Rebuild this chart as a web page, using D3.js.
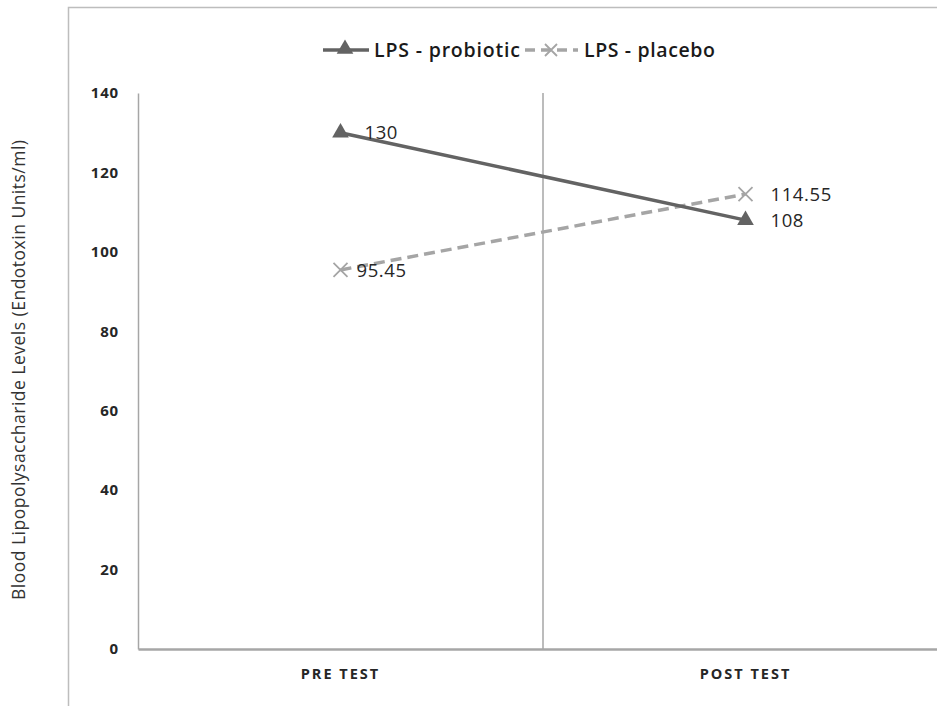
<!DOCTYPE html>
<html><head><meta charset="utf-8">
<script src="https://cdn.jsdelivr.net/npm/d3@7"></script>
<style>body{margin:0;background:#fff;} svg{display:block;}</style>
</head><body>
<svg id="c" width="937" height="706"></svg>
<script>
const categories = ["PRE TEST", "POST TEST"];
const probiotic = [130, 108];
const placebo = [95.45, 114.55];
const yTicks = [0, 20, 40, 60, 80, 100, 120, 140];
const seriesNames = ["LPS - probiotic", "LPS - placebo"];
const yTitle = "Blood Lipopolysaccharide Levels (Endotoxin Units/ml)";

const svg = d3.select("#c");
const font = "'Open Sans', 'Liberation Sans', sans-serif";

// outer border
svg.append("rect").attr("x", 68.5).attr("y", 7.5).attr("width", 900).attr("height", 720)
  .attr("fill", "none").attr("stroke", "#bdbdbd").attr("stroke-width", 1.5);

const x = d3.scaleBand().domain(categories).range([138, 948]);
const y = d3.scaleLinear().domain([0, 140]).range([649, 93]);

// divider between categories
svg.append("line").attr("x1", x("POST TEST")).attr("x2", x("POST TEST"))
  .attr("y1", y(140)).attr("y2", y(0)).attr("stroke", "#a6a6a6").attr("stroke-width", 1.5);

// y axis
const yAxis = svg.append("g").attr("transform", "translate(138,0)")
  .call(d3.axisLeft(y).tickValues(yTicks).tickSize(0).tickPadding(19));
yAxis.select(".domain").attr("stroke", "#a6a6a6").attr("stroke-width", 1.5);
yAxis.selectAll("text").attr("font-family", font).attr("font-size", 15).attr("font-weight", "bold")
  .attr("letter-spacing", 0.8).attr("fill", "#262626");

// x axis
const xAxis = svg.append("g").attr("transform", `translate(0,${y(0)})`)
  .call(d3.axisBottom(x).tickSize(0).tickPadding(20));
xAxis.select(".domain").attr("stroke", "#a6a6a6").attr("stroke-width", 2.5);
xAxis.selectAll("text").attr("font-family", font).attr("font-size", 14.5).attr("font-weight", "bold")
  .attr("fill", "#262626").attr("letter-spacing", 2);

// y title
svg.append("text").attr("transform", `translate(25,${370}) rotate(-90)`)
  .attr("text-anchor", "middle").attr("font-family", font).attr("font-size", 17.5).attr("fill", "#333")
  .attr("textLength", 460).text(yTitle);

const cx = c => x(c) + x.bandwidth() / 2;
const line = d3.line().x((d, i) => cx(categories[i])).y(d => y(d));

const c1 = "#636363", c2 = "#a5a5a5";

svg.append("path").datum(placebo).attr("d", line).attr("fill", "none")
  .attr("stroke", c2).attr("stroke-width", 3.5).attr("stroke-dasharray", "11,6");
svg.append("path").datum(probiotic).attr("d", line).attr("fill", "none")
  .attr("stroke", c1).attr("stroke-width", 3.5);

const tri = d3.symbol().type(d3.symbolTriangle).size(120);
function xMark(g, px, py, s, col) {
  g.append("path").attr("d", `M${px-s},${py-s}L${px+s},${py+s}M${px-s},${py+s}L${px+s},${py-s}`)
    .attr("stroke", col).attr("stroke-width", 1.8).attr("fill", "none");
}

probiotic.forEach((v, i) => {
  svg.append("path").attr("d", tri).attr("transform", `translate(${cx(categories[i])},${y(v)})`).attr("fill", c1);
});
placebo.forEach((v, i) => xMark(svg, cx(categories[i]), y(v), 7, c2));

// data labels
function label(txt, px, py) {
  svg.append("text").attr("x", px).attr("y", py).attr("dy", "0.35em")
    .attr("font-family", font).attr("font-size", 18.5).attr("letter-spacing", 0.6)
    .attr("fill", "#262626").text(txt);
}
label(probiotic[0], cx(categories[0]) + 24, y(probiotic[0]));
label(placebo[0], cx(categories[0]) + 16, y(placebo[0]) + 1);
label(placebo[1], cx(categories[1]) + 25, y(placebo[1]));
label(probiotic[1], cx(categories[1]) + 25, y(probiotic[1]));

// legend
const ly = 50;
const lg = svg.append("g");
lg.append("line").attr("x1", 323).attr("x2", 369).attr("y1", ly).attr("y2", ly).attr("stroke", c1).attr("stroke-width", 3.5);
lg.append("path").attr("d", tri).attr("transform", `translate(345,${ly-1})`).attr("fill", c1);
lg.append("text").attr("x", 374).attr("y", ly).attr("dy", "0.35em").attr("font-family", font)
  .attr("font-size", 19.5).attr("font-weight", 600).attr("fill", "#1a1a1a")
  .attr("textLength", 146).text(seriesNames[0]);
lg.append("line").attr("x1", 525).attr("x2", 578).attr("y1", ly).attr("y2", ly).attr("stroke", c2)
  .attr("stroke-width", 3.5).attr("stroke-dasharray", "10,6");
xMark(lg, 551, ly, 6, c2);
lg.append("text").attr("x", 584).attr("y", ly).attr("dy", "0.35em").attr("font-family", font)
  .attr("font-size", 19.5).attr("font-weight", 600).attr("fill", "#1a1a1a")
  .attr("textLength", 131).text(seriesNames[1]);
</script>
</body></html>
